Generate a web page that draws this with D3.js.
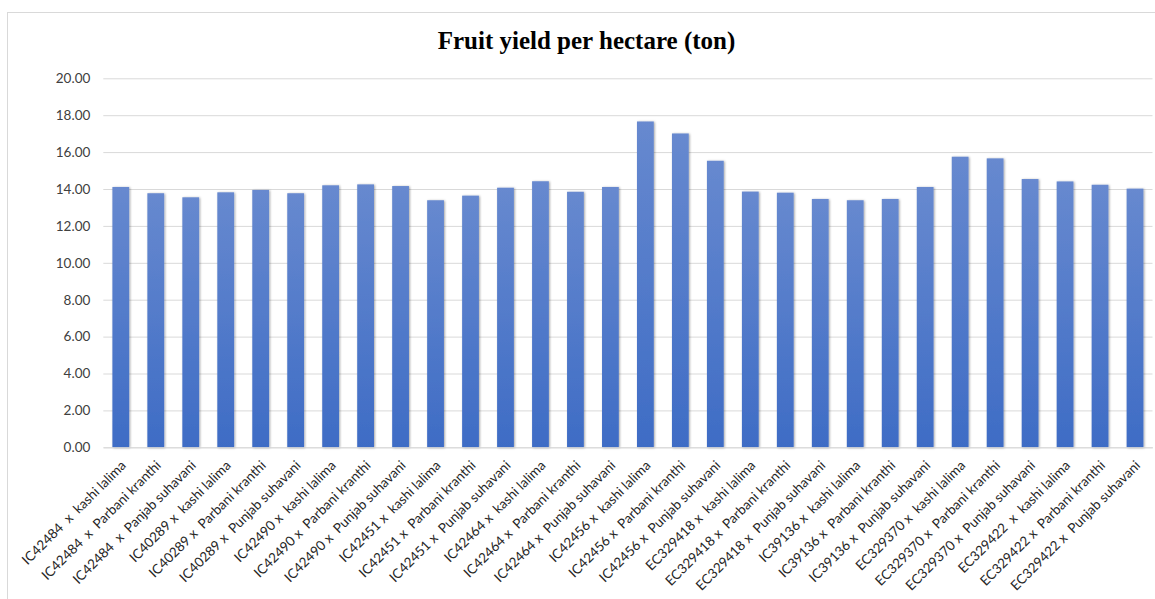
<!DOCTYPE html>
<html>
<head>
<meta charset="utf-8">
<script src="https://cdn.jsdelivr.net/npm/d3@7"></script>
<style>
    body { margin: 0; background: #fff; }
    svg text { font-family: Lato, "Open Sans", sans-serif; }
</style>
</head>
<body>
<svg class="chart" width="1155" height="599"></svg>
<script>

//crosses (x labels) and their yield values
var crosses = [
    "IC42484  x  kashi lalima", "IC42484  x  Parbani kranthi", "IC42484  x  Panjab suhavani",
    "IC40289 x  kashi lalima", "IC40289 x  Parbani kranthi", "IC40289 x  Punjab suhavani",
    "IC42490 x  kashi lalima", "IC42490 x  Parbani kranthi", "IC42490 x  Punjab suhavani",
    "IC42451 x  kashi lalima", "IC42451 x  Parbani kranthi", "IC42451 x  Punjab suhavani",
    "IC42464 x  kashi lalima", "IC42464 x  Parbani kranthi", "IC42464 x  Punjab suhavani",
    "IC42456 x  kashi lalima", "IC42456 x  Parbani kranthi", "IC42456 x  Punjab suhavani",
    "EC329418 x  kashi lalima", "EC329418 x  Parbani kranthi", "EC329418 x  Punjab suhavani",
    "IC39136 x  kashi lalima", "IC39136 x  Parbani kranthi", "IC39136 x  Punjab suhavani",
    "EC329370 x  kashi lalima", "EC329370 x  Parbani kranthi", "EC329370 x  Punjab suhavani",
    "EC329422  x  kashi lalima", "EC329422 x  Parbani kranthi", "EC329422 x  Punjab suhavani"
];
var yields = [
    14.11, 13.77, 13.55, 13.82, 13.95, 13.77, 14.20, 14.25, 14.16, 13.39,
    13.64, 14.07, 14.42, 13.85, 14.11, 17.66, 17.01, 15.53, 13.86, 13.80,
    13.46, 13.39, 13.46, 14.11, 15.75, 15.66, 14.54, 14.41, 14.23, 14.02
];
var yTicks = [0, 2, 4, 6, 8, 10, 12, 14, 16, 18, 20];
var title = "Fruit yield per hectare (ton)";

var svg = d3.select("svg.chart");

//scales
var x = d3.scaleBand().domain(crosses).range([103.3, 1152.5]).paddingInner(0.52).paddingOuter(0.26);
var y = d3.scaleLinear().domain([0, 20]).range([447.3, 78.3]);

//gradient + shadow like the excel bars
var defs = svg.append("defs");
var grad = defs.append("linearGradient")
    .attr("id", "barFill")
    .attr("x1", 0).attr("y1", 0).attr("x2", 0).attr("y2", 1);
grad.append("stop").attr("offset", "0%").attr("stop-color", "#6789cf");
grad.append("stop").attr("offset", "100%").attr("stop-color", "#3e6cc5");

var shadow = defs.append("filter").attr("id", "shadow")
    .attr("x", "-20%").attr("y", "-5%").attr("width", "150%").attr("height", "110%");
shadow.append("feDropShadow")
    .attr("dx", 1).attr("dy", 0.5)
    .attr("stdDeviation", 0.9)
    .attr("flood-color", "#000")
    .attr("flood-opacity", 0.35);

//chart border
svg.append("rect")
    .attr("x", 7.5).attr("y", 12.5)
    .attr("width", 1155).attr("height", 595)
    .attr("fill", "none")
    .attr("stroke", "#d9d9d9");

//title
svg.append("text")
    .attr("x", 586.5)
    .attr("y", 49)
    .attr("text-anchor", "middle")
    .style("font-family", "'Liberation Serif', 'Times New Roman', serif")
    .style("font-weight", "bold")
    .style("font-size", "25px")
    .attr("fill", "#000")
    .text(title);

//y axis (gridlines + labels)
var yAxis = svg.append("g")
    .attr("transform", "translate(103.3,0)")
    .call(d3.axisLeft(y).tickValues(yTicks).tickFormat(d3.format(".2f"))
        .tickSize(-(1152.5 - 103.3)).tickPadding(13));
yAxis.select(".domain").remove();
yAxis.selectAll(".tick line").attr("stroke", "#d9d9d9");
yAxis.selectAll(".tick text")
    .attr("fill", "#404040")
    .style("font-size", "13.5px");

//bars
svg.append("g")
    .selectAll("rect.bar")
    .data(yields)
    .enter()
    .append("rect")
        .attr("class", "bar")
        .attr("x", (d, i) => x(crosses[i]))
        .attr("y", d => y(d))
        .attr("width", x.bandwidth())
        .attr("height", d => y(0) - y(d))
        .attr("fill", "url(#barFill)")
        .attr("filter", "url(#shadow)");

//x axis, labels at -45 deg
var xAxis = svg.append("g")
    .attr("transform", `translate(0,${y(0)})`)
    .call(d3.axisBottom(x).tickSize(0).tickPadding(0));
xAxis.select(".domain").attr("stroke", "#d9d9d9");
xAxis.selectAll(".tick text")
    .attr("fill", "#262626")
    .style("font-size", "13.5px")
    .style("white-space", "pre")
    .attr("text-anchor", "end")
    .attr("dy", 0)
    .attr("transform", "translate(6,19) rotate(-45)");

</script>
</body>
</html>
